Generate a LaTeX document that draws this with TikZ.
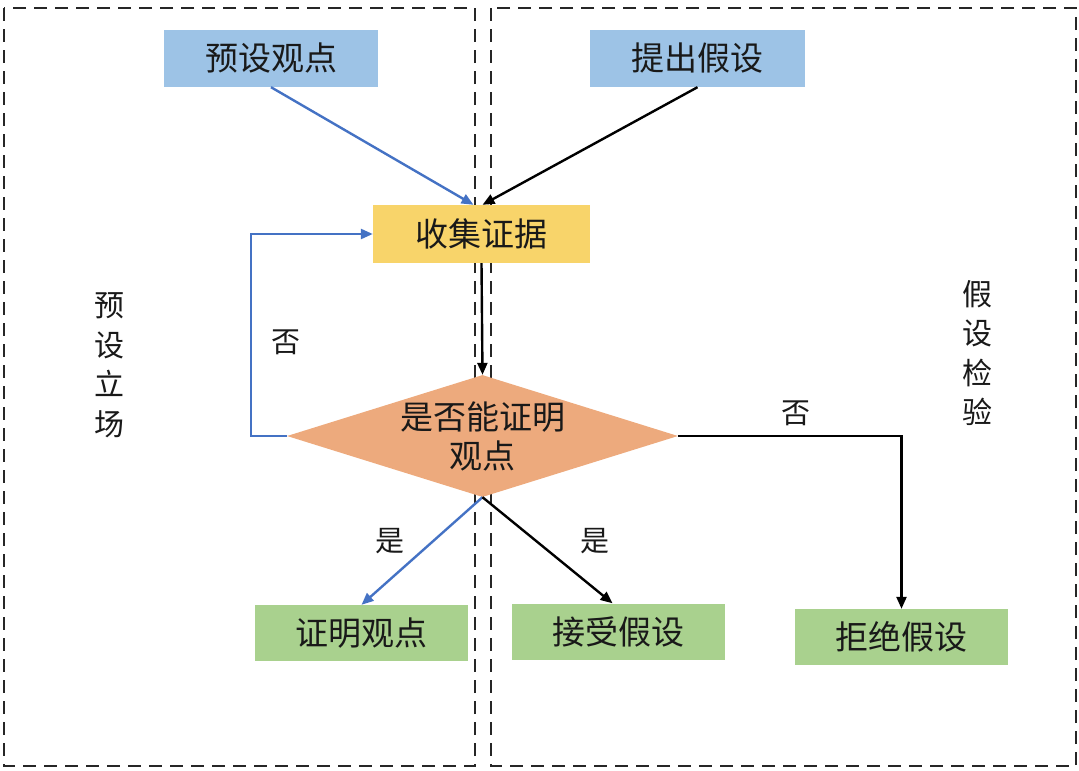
\documentclass[tikz,border=0pt]{standalone}
\usepackage{fontspec}
\setmainfont{Noto Sans CJK SC}
\usetikzlibrary{shapes.geometric,arrows.meta,calc}
\definecolor{boxblue}{HTML}{9DC3E6}
\definecolor{boxyellow}{HTML}{F8D46A}
\definecolor{boxorange}{HTML}{EDAA7D}
\definecolor{boxgreen}{HTML}{A9D18E}
\definecolor{arrblue}{HTML}{4472C4}
\tikzset{
  region/.style={draw=black!85, line width=2.2pt, dash pattern=on 13pt off 8pt},
  box/.style={rectangle, inner sep=0pt, minimum width=214pt, minimum height=57pt, font=\fontsize{33}{38}\selectfont, text=black!90},
  lbl/.style={inner sep=0pt, font=\fontsize{29}{34}\selectfont, text=black!90},
  side/.style={inner sep=0pt, align=center, font=\fontsize{30}{39.5}\selectfont, text=black!90},
  barr/.style={draw=arrblue, line width=2.4pt, -{Triangle[length=12pt,width=10pt]}},
  karr/.style={draw=black, line width=2.4pt, -{Triangle[length=12pt,width=10pt]}},
}
\begin{document}
\begin{tikzpicture}[x=1pt,y=-1pt]
\useasboundingbox (0,0) rectangle (1079,771);
% regions
\draw[region] (4,8) rectangle (475,766);
\draw[region] (491,8) rectangle (1076,766);
% boxes
\node[box, fill=boxblue] (yd) at (271,58.5) {预设观点};
\node[box, fill=boxblue, minimum width=215pt] (tc) at (697.5,58.5) {提出假设};
\node[box, fill=boxyellow, minimum width=217pt, minimum height=58pt] (sj) at (481.5,234) {收集证据};
\node[diamond, fill=boxorange, inner sep=0pt, minimum width=391pt, minimum height=122pt] (dia) at (482.5,436) {};
\node[inner sep=0pt, align=center, font=\fontsize{33}{39}\selectfont, text=black!90] (dtext) at (dia.center) {是否能证明\\观点};
\node[box, fill=boxgreen, minimum width=213pt, minimum height=56pt] (zm) at (361.5,633) {证明观点};
\node[box, fill=boxgreen, minimum width=213pt, minimum height=56pt] (js) at (618.5,631.5) {接受假设};
\node[box, fill=boxgreen, minimum width=213pt, minimum height=56pt] (jj) at (901.5,637) {拒绝假设};
% side labels
\node[side] (lside) at (109,365) {预\\设\\立\\场};
\node[side] (rside) at (977,353) {假\\设\\检\\验};
% connectors
\draw[barr] (yd.south) -- ($(sj.north)+(-8,0)$);
\draw[karr] (tc.south) -- ($(sj.north)+(1,0)$);
\draw[karr] (sj.south) -- (dia.north);
\coordinate (lp) at (251,436);
\draw[barr] (dia.west) -- (lp) |- (sj.west);
\draw[karr] (dia.east) -| (jj.north);
\draw[barr] (dia.south) -- (zm.north);
\draw[karr] (dia.south) -- ($(js.north)+(-6,0)$);
% edge labels
\node[lbl] (no1) at (286,342) {否};
\node[lbl] (no2) at (796,413) {否};
\node[lbl] (yes1) at (390,541) {是};
\node[lbl] (yes2) at (595,541) {是};
\end{tikzpicture}
\end{document}
